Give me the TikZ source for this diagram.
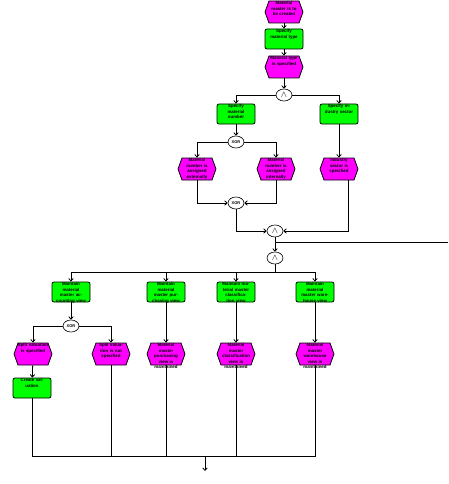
\documentclass[tikz,border=0pt]{standalone}
\usepackage{fontspec}
\setmainfont{Liberation Sans}
\usetikzlibrary{shapes.geometric,shapes.symbols,arrows.meta}
\definecolor{evtmag}{RGB}{255,0,255}
\definecolor{fungreen}{RGB}{0,255,0}

\begin{document}
\begin{tikzpicture}[x=1pt,y=-1pt]
%define
\tikzstyle{event} = [signal, signal to=east and west, signal pointer angle=140, minimum width=38pt, minimum height=22pt, inner sep=0pt, fill=evtmag, draw=black, line width=0.8pt]
\tikzstyle{func} = [rectangle, rounded corners=2pt, minimum width=38pt, minimum height=20pt, inner sep=0pt, fill=fungreen, draw=black, line width=0.8pt]
\tikzstyle{gate} = [ellipse, minimum width=16pt, minimum height=12pt, inner sep=0pt, fill=white, draw=black, line width=0.6pt, font=\fontsize{4}{4}\selectfont\bfseries]
\tikzstyle{txt} = [anchor=north, text width=32pt, align=center, inner sep=1pt, font=\fontsize{4.4}{5.4}\selectfont\bfseries]
\tikzstyle{arrow} = [-{Straight Barb[length=2.5pt,width=4.5pt]}]
\tikzstyle{line} = [line width=0.8pt]

\useasboundingbox (0,0) rectangle (448,484);

% creation
\node[event, label={[txt]above:Material master is to be created}] (e1) at (284,12) {};
\node[func, label={[txt]above:Specify material type}] (f1) at (284,39) {};
\node[event, label={[txt]above:Material type is specified}] (e2) at (284,67) {};
\node[gate] (and1) at (284,95) {\fontsize{9}{9}\selectfont$\wedge$};

\node[func, label={[txt]above:Specify material number}] (f2) at (236,114) {};
\node[func, label={[txt]above:Specify industry sector}] (f3) at (339,114) {};
\node[gate] (xor1) at (236,142) {XOR};
\node[event, label={[txt]above:Material number is assigned externally}] (e3) at (197,169) {};
\node[event, label={[txt]above:Material number is assigned internally}] (e4) at (276,169) {};
\node[event, label={[txt]above:Industry sector is specified}] (e5) at (339,169) {};
\node[gate] (xor2) at (236,203) {XOR};
\node[gate] (and2) at (275,231) {\fontsize{9}{9}\selectfont$\wedge$};
\node[gate] (and3) at (275,258) {\fontsize{9}{9}\selectfont$\wedge$};
\coordinate (out) at (448,242);
\coordinate (bus) at (275,272);

% views
\node[func, label={[txt]above:Maintain material master accounting view}] (f4) at (71,292) {};
\node[func, label={[txt]above:Maintain material master purchasing view}] (f5) at (166,292) {};
\node[func, label={[txt]above:Maintain material master classification view}] (f6) at (236,292) {};
\node[func, label={[txt]above:Maintain material master warehouse view}] (f7) at (315,292) {};
\node[gate] (xor3) at (71,326) {XOR};
\node[event, label={[txt]above:Split valuation is specified}] (e6) at (33,354) {};
\node[event, label={[txt]above:Split valuation is not specified}] (e7) at (111,354) {};
\node[event, label={[txt]above:Material master purchasing view is maintained}] (e8) at (166,354) {};
\node[event, label={[txt]above:Material master classification view is maintained}] (e9) at (236,354) {};
\node[event, label={[txt]above:Material master warehouse view is maintained}] (e10) at (315,354) {};
\node[func, label={[txt]above:Create valuation}] (f8) at (32,388) {};
\coordinate (merge) at (205,456);
\coordinate (stop) at (205,471);

% connectors
\draw[line, arrow] (e1) -- (f1);
\draw[line, arrow] (f1) -- (e2);
\draw[line, arrow] (e2) -- (and1);
\draw[line, arrow] (and1) -| (f2);
\draw[line, arrow] (and1) -| (f3);
\draw[line, arrow] (f2) -- (xor1);
\draw[line, arrow] (xor1) -| (e3);
\draw[line, arrow] (xor1) -| (e4);
\draw[line, arrow] (f3) -- (e5);
\draw[line, arrow] (e3) |- (xor2);
\draw[line, arrow] (e4) |- (xor2);
\draw[line, arrow] (xor2) |- (and2);
\draw[line, arrow] ([xshift=9pt]e5.south) |- (and2);
\draw[line, arrow] (and2) -- (and3);
\draw[line] (and2) |- (out);
\draw[line] (and3) -- (bus);
\draw[line, arrow] (bus) -| (f4);
\draw[line, arrow] (bus) -| (f5);
\draw[line, arrow] (bus) -| (f6);
\draw[line, arrow] (bus) -| (f7);
\draw[line, arrow] (f4) -- (xor3);
\draw[line, arrow] (xor3) -| (e6);
\draw[line, arrow] (xor3) -| (e7);
\draw[line, arrow] (f5) -- (e8);
\draw[line, arrow] (f6) -- (e9);
\draw[line, arrow] (f7) -- (e10);
\draw[line, arrow] (e6) -- (f8);
\draw[line] (f8) |- (merge);
\draw[line] (e7) |- (merge);
\draw[line] (e8) |- (merge);
\draw[line] (e9) |- (merge);
\draw[line] (e10) |- (merge);
\draw[line, arrow] (merge) -- (stop);

\end{tikzpicture}
\end{document}
